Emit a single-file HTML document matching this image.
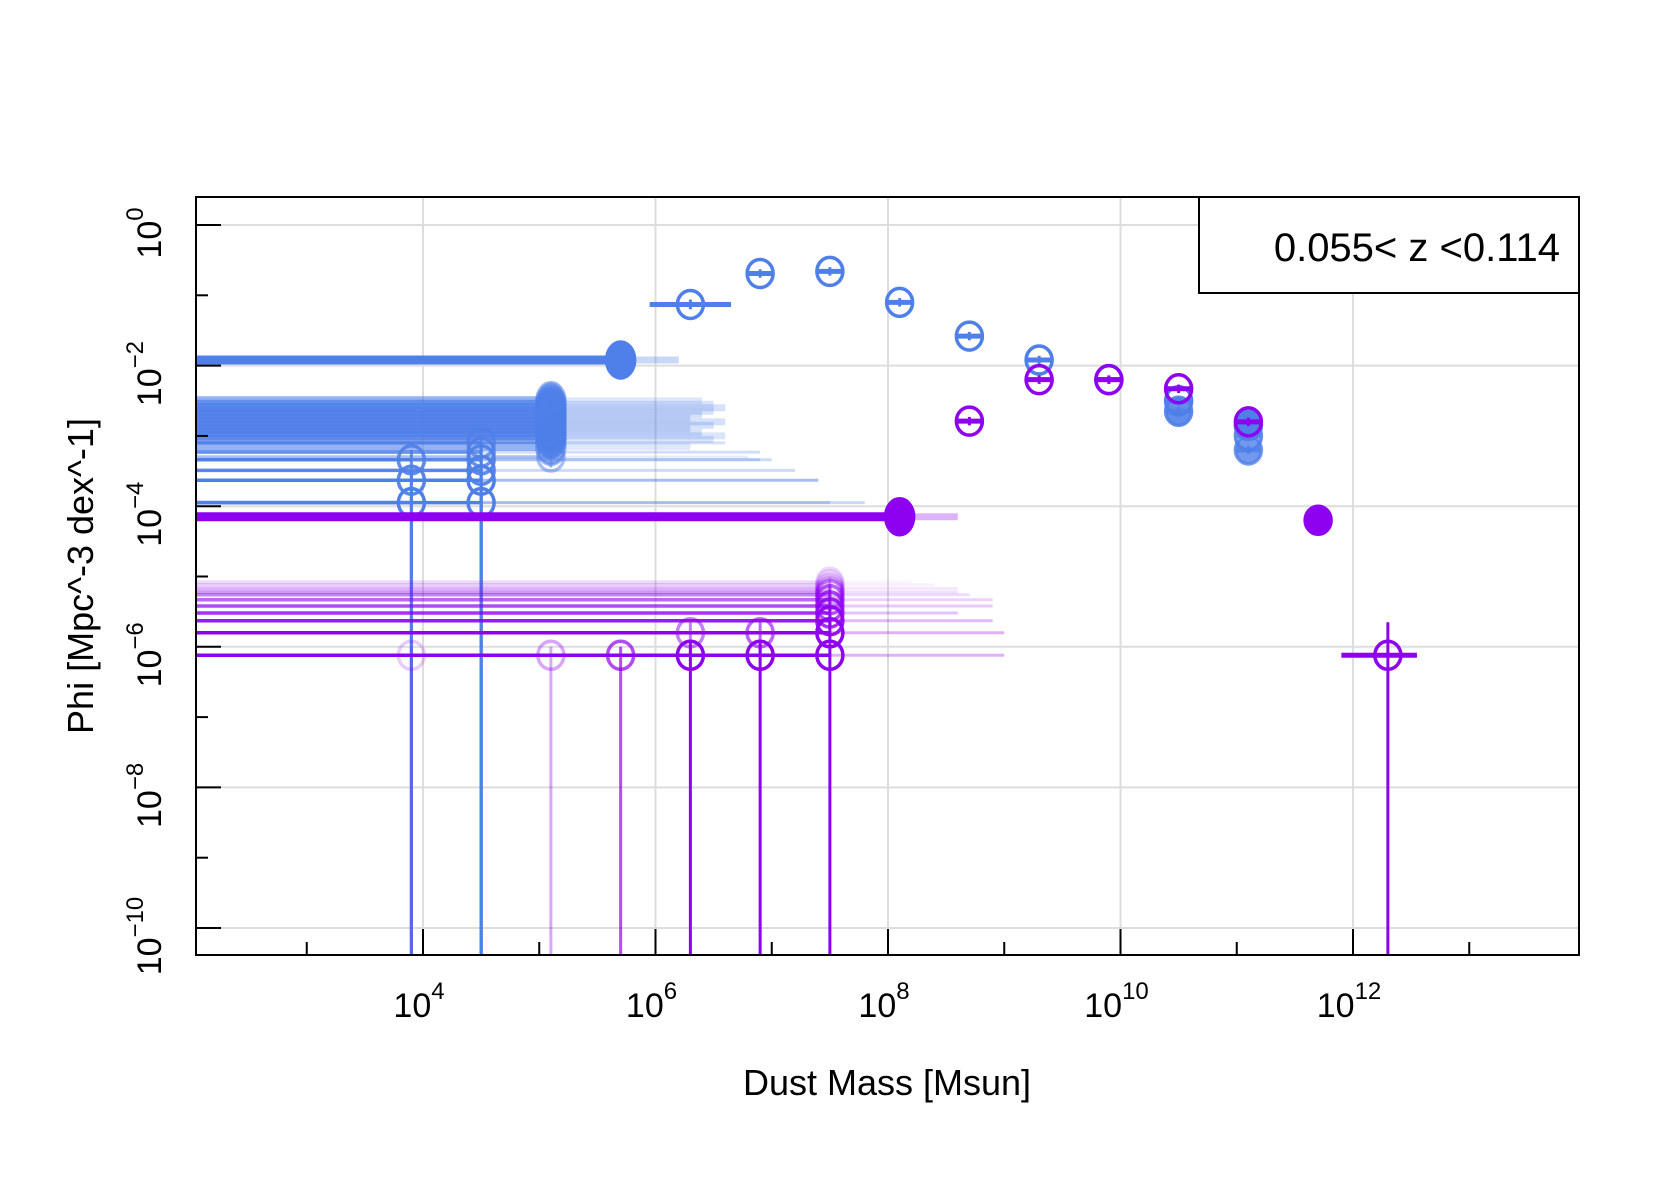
<!DOCTYPE html>
<html><head><meta charset="utf-8"><style>
html,body{margin:0;padding:0;background:#fff;}
svg{display:block;font-family:"Liberation Sans",Arial,sans-serif;}
</style></head><body>
<svg id="chart" width="1680" height="1200" viewBox="0 0 1680 1200" xmlns="http://www.w3.org/2000/svg">
<rect x="0" y="0" width="1680" height="1200" fill="#fff"/>
<g id="grid"></g>
<g id="marks"></g>
<g id="axes"></g>
<rect x="196" y="197" width="1383" height="758" fill="none" stroke="#000" stroke-width="2"/>
<g>
<rect x="1199" y="197" width="380" height="96" fill="#fff" stroke="#000" stroke-width="2"/>
<text x="1560" y="261" font-size="40" text-anchor="end">0.055&lt; z &lt;0.114</text>
</g>
<text x="887" y="1095" font-size="36" text-anchor="middle">Dust Mass [Msun]</text>
<text transform="translate(93,576) rotate(-90)" font-size="36" text-anchor="middle">Phi [Mpc^-3 dex^-1]</text>
</svg>
<script>
// ---- data (log10 values) ----
const xTickExps = [4, 6, 8, 10, 12];
const yTickExps = [0, -2, -4, -6, -8, -10];
// blue series
const blueX   = [3.9,3.9,3.9, 4.5,4.5,4.5,4.5,4.5,4.5, 5.1,5.1,5.1,5.1,5.1,5.1,5.1,5.1,5.1,5.1,5.1,5.1,5.1,5.1, 5.7, 6.3,6.9,7.5,8.1,8.7,9.3,9.9,10.5,10.5,11.1,11.1,11.1];
const blueY   = [-3.34,-3.63,-3.95, -3.1,-3.23,-3.34,-3.49,-3.63,-3.95, -2.5,-2.55,-2.6,-2.65,-2.7,-2.75,-2.8,-2.85,-2.9,-2.95,-3.0,-3.05,-3.15,-3.3, -1.92, -1.13,-0.69,-0.66,-1.1,-1.58,-1.92,-2.2,-2.5,-2.65,-2.85,-3.0,-3.2];
const blueXLo = [2,2,2, 2,2,2,2,2,2, 2,2,2,2,2,2,2,2,2,2,2,2,2,2, 2, 5.95,6.8,7.4,8.0,8.6,9.2,9.8,10.4,10.4,11.0,11.0,11.0];
const blueXHi = [6.9,7.4,7.5, 6.6,6.9,7.0,7.2,7.4,7.8, 6.4,6.5,6.6,6.5,6.4,6.3,6.6,6.5,6.3,6.4,6.6,6.5,6.3,6.8, 6.2, 6.65,7.0,7.6,8.2,8.8,9.4,10.0,10.6,10.6,11.2,11.2,11.2];
const blueYBot= [-11,-11,-11, -11,-11,-11,-11,-11,-11, -2.6,-2.65,-2.7,-2.75,-2.8,-2.85,-2.9,-2.95,-3.0,-3.05,-3.1,-3.15,-3.25,-3.45, -2.0, -1.2,-0.75,-0.72,-1.16,-1.64,-1.98,-2.26,-2.56,-2.71,-2.91,-3.06,-3.26];
const blueYTop= [-3.2,-3.5,-3.85, -3.0,-3.1,-3.2,-3.35,-3.5,-3.85, -2.4,-2.45,-2.5,-2.55,-2.6,-2.65,-2.7,-2.75,-2.8,-2.85,-2.9,-2.95,-3.05,-3.2, -1.84, -1.06,-0.63,-0.6,-1.04,-1.52,-1.86,-2.14,-2.44,-2.59,-2.79,-2.94,-3.14];
const blueAlpha=[0.9,0.95,1, 0.8,0.85,0.9,0.95,1,1, 0.6,0.7,0.8,0.8,0.8,0.8,0.8,0.8,0.8,0.8,0.7,0.7,0.6,0.5, 1, 1,1,1,1,1,1,1,1,0.9,1,0.9,0.8];
const blueFill= [0,0,0, 0,0,0,0,0,0, 1,1,1,1,1,1,1,1,1,1,1,1,1,0, 1, 0,0,0,0,0,0,0,0,1,1,0,1];
// purple series
const purpX   = [3.9, 5.1, 5.7, 6.3,6.3, 6.9,6.9, 7.5,7.5,7.5,7.5,7.5,7.5,7.5,7.5,7.5,7.5,7.5, 8.1, 8.7,9.3,9.9,10.5,11.1,11.7, 12.3];
const purpY   = [-6.12,-6.12,-6.12, -5.8,-6.12, -5.8,-6.12, -5.08,-5.12,-5.17,-5.22,-5.26,-5.33,-5.42,-5.52,-5.63,-5.8,-6.12, -4.15, -2.79,-2.2,-2.2,-2.33,-2.8,-4.2, -6.12];
const purpXLo = [2,2,2, 2,2, 2,2, 2,2,2,2,2,2,2,2,2,2,2, 2, 8.6,9.2,9.8,10.4,11.0,11.6, 11.9];
const purpXHi = [2,2,2, 2,2, 2,2, 8.2,8.4,8.6,8.6,8.7,8.9,8.9,8.6,8.9,9.0,9.0, 8.6, 8.8,9.4,10.0,10.6,11.2,11.8, 12.55];
const purpYBot= [-11,-11,-11, -6.2,-11, -6.2,-11, -5.2,-5.2,-5.25,-5.3,-5.35,-5.4,-5.5,-5.6,-5.7,-5.9,-11, -4.25, -2.85,-2.26,-2.26,-2.39,-2.86,-4.26, -11];
const purpYTop= [-6.0,-6.0,-6.0, -5.65,-5.95, -5.65,-5.95, -5.0,-5.05,-5.1,-5.15,-5.2,-5.25,-5.35,-5.45,-5.55,-5.65,-5.95, -4.05, -2.73,-2.14,-2.14,-2.27,-2.74,-4.14, -5.65];
const purpAlpha=[0.2,0.35,0.7, 0.5,1, 0.6,1, 0.15,0.2,0.3,0.4,0.5,0.6,0.7,0.8,0.9,1,1, 1, 1,1,1,1,1,1, 1];
const purpFill= [0,0,0, 0,0, 0,0, 0,0,0,0,0,0,0,0,0,0,0, 1, 0,0,0,0,0,1, 0];

// ---- scales ----
const X0 = 196, X1 = 1579, Y0 = 197, Y1 = 955;
function xs(l){ return 423 + (l - 4) * 116.25; }
function ys(l){ return 225 - l * 70.3; }
function cx(v){ return Math.max(X0, Math.min(X1, v)); }
function cy(v){ return Math.max(Y0, Math.min(Y1, v)); }
const NS = "http://www.w3.org/2000/svg";
function mk(tag, attrs, parent){
  const e = document.createElementNS(NS, tag);
  for (const k in attrs) e.setAttribute(k, attrs[k]);
  parent.appendChild(e);
  return e;
}
const grid = document.getElementById('grid');
const axes = document.getElementById('axes');
const marks = document.getElementById('marks');

xTickExps.forEach(function(e){
  const l = mk('line', {x1: xs(e), x2: xs(e), y1: Y0, y2: Y1, stroke: '#dddddd', 'stroke-width': 2}, grid);
  
  
});
yTickExps.forEach(function(e){
  const l = mk('line', {x1: X0, x2: X1, y1: ys(e), y2: ys(e), stroke: '#dddddd', 'stroke-width': 2}, grid);
  
  
});
for (let e = 3; e <= 13; e++){
  const len = (e % 2 === 0) ? 26 : 13;
  const t = mk('line', {x1: xs(e), x2: xs(e), y1: Y1, y2: Y1 - len, stroke: '#000', 'stroke-width': 2}, axes);
  
  
}
for (let e = 0; e >= -10; e--){
  const len = (e % 2 === 0) ? 25 : 12;
  const t = mk('line', {x1: X0, x2: X0 + len, y1: ys(e), y2: ys(e), stroke: '#000', 'stroke-width': 2}, axes);
  
  
}
xTickExps.forEach(function(e){
  const t = mk('text', {x: xs(e) - 4, y: 1017, 'font-size': 34, 'text-anchor': 'middle'}, axes);
  
  
  t.textContent = '10';
  const s = mk('tspan', {'font-size': 24, dy: -18}, t);
  s.textContent = String(e);
});
yTickExps.forEach(function(e){
  const t = mk('text', {'font-size': 34, 'text-anchor': 'middle', transform: 'translate(161,' + (ys(e) + 8) + ') rotate(-90)'}, axes);
  
  
  t.textContent = '10';
  const s = mk('tspan', {'font-size': 24, dy: -18}, t);
  s.textContent = (e === 0 ? '0' : '\u2212' + Math.abs(e));
});

function drawSeries(name, color, X, Y, XLo, XHi, YBot, YTop, A, F){
  const g = mk('g', {}, marks);
  
  
  for (let i = 0; i < X.length; i++){
    const px = xs(X[i]), py = ys(Y[i]);
    const a = A[i];
    const isLimit = XLo[i] <= 2;
    if (isLimit){
      const h = mk('line', {x1: X0, x2: px, y1: py, y2: py, stroke: color, 'stroke-width': F[i] ? 9 : 3.5, 'stroke-opacity': a}, g);
      
      
      if (XHi[i] > X[i]){
        const tl = mk('line', {x1: px, x2: cx(xs(XHi[i])), y1: py, y2: py, stroke: color, 'stroke-width': F[i] ? 7 : 3, 'stroke-opacity': a * 0.3}, g);
        
        
      }
    } else {
      const h = mk('line', {x1: cx(xs(XLo[i])), x2: cx(xs(XHi[i])), y1: py, y2: py, stroke: color, 'stroke-width': 5, 'stroke-opacity': a}, g);
      
      
    }
    const v = mk('line', {x1: px, x2: px, y1: cy(ys(YTop[i])), y2: cy(ys(YBot[i])), stroke: color, 'stroke-width': 3, 'stroke-opacity': a}, g);
    
    
    const big = F[i] && isLimit;
    const c = mk('ellipse', {cx: px, cy: py, rx: big ? 14 : 13, ry: big ? 18 : 14, fill: F[i] ? color : 'none', 'fill-opacity': a, stroke: color, 'stroke-width': 3.5, 'stroke-opacity': a}, g);
    
    
  }
}
drawSeries('blue-series', '#4f7fe8', blueX, blueY, blueXLo, blueXHi, blueYBot, blueYTop, blueAlpha, blueFill);
drawSeries('purple-series', '#8e00f0', purpX, purpY, purpXLo, purpXHi, purpYBot, purpYTop, purpAlpha, purpFill);
</script>
</body></html>
